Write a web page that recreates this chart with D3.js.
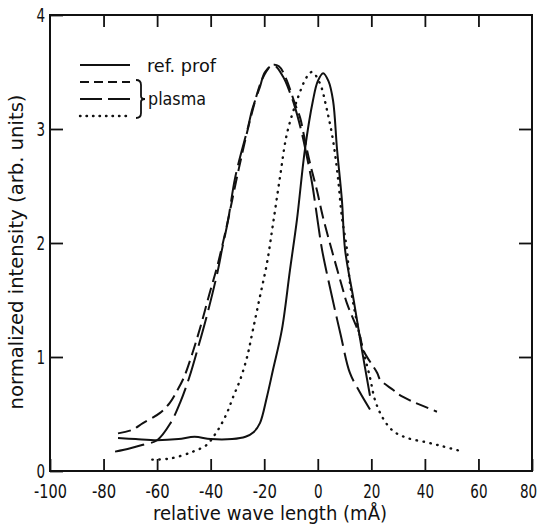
<!DOCTYPE html>
<html>
<head>
<meta charset="utf-8">
<script src="https://cdn.jsdelivr.net/npm/d3@7"></script>
<style>
  body { margin: 0; background: #fff; }
  text { font-family: 'DejaVu Sans Condensed', 'Liberation Sans', sans-serif; fill: #111; }
</style>
</head>
<body>
<svg id="mainsvg" width="541" height="527"></svg>
<script>
// values
const xTicks = [-100, -80, -60, -40, -20, 0, 20, 40, 60, 80];
const yTicks = [0, 1, 2, 3, 4];

// ref. prof (solid)
const refProf = [[-74.6,0.29],[-68,0.28],[-60,0.27],[-52,0.28],[-46,0.30],[-40,0.28],[-32,0.28],
  [-27,0.30],[-24,0.34],[-21.6,0.42],[-19,0.65],[-16.7,0.89],[-13.4,1.24],[-10.4,1.76],[-7.8,2.2],
  [-4.8,2.82],[-1.8,3.25],[0,3.42],[2,3.49],[4,3.42],[5.7,3.25],[7.2,2.82],[9,2.38],[10.2,1.94],
  [13.4,1.5],[16.5,1.06],[19.5,0.66]];

// plasma, short dashes
const plasmaShort = [[-74.6,0.33],[-69.4,0.36],[-65.3,0.42],[-58.9,0.51],[-55.2,0.60],[-52.4,0.71],
  [-50,0.82],[-47,1.02],[-44,1.25],[-40.5,1.55],[-37.5,1.8],[-34,2.15],[-29.5,2.65],[-24.5,3.15],
  [-20.5,3.45],[-17,3.56],[-14.5,3.55],[-12,3.45],[-8.5,3.22],[-6.6,3.1],[-4.8,2.9],[-2.9,2.7],
  [-0.3,2.46],[1.9,2.23],[5.2,1.94],[9.4,1.59],[10.9,1.47],[15.8,1.18],[17,1.06],[22.2,0.86],
  [23.3,0.80],[28.2,0.71],[29.7,0.68],[34.4,0.62],[36.3,0.60],[44.5,0.52]];

// plasma, long dashes
const plasmaLong = [[-75.7,0.17],[-70,0.20],[-65.3,0.23],[-60,0.27],[-55,0.42],[-51.4,0.60],
  [-48,0.82],[-44.5,1.1],[-41,1.4],[-37.3,1.76],[-35.8,1.94],[-33.5,2.2],[-30.8,2.58],
  [-26,3.02],[-24.5,3.17],[-21.6,3.37],[-19.7,3.50],[-16.5,3.56],[-13,3.46],[-10.4,3.32],
  [-8.5,3.19],[-5.9,2.96],[-4,2.75],[-2.1,2.52],[0.1,2.17],[1.6,1.94],[5.3,1.53],[8.5,1.2],
  [12,0.86],[15.5,0.70],[19.5,0.54]];

// plasma, dotted
const plasmaDot = [[-61.8,0.10],[-55,0.11],[-46.6,0.17],[-41.4,0.23],[-39,0.30],[-36.5,0.39],
  [-33.9,0.51],[-31.6,0.65],[-29,0.80],[-26.4,1.0],[-24.2,1.24],[-21.6,1.53],[-19,1.82],
  [-16.7,2.17],[-14.1,2.58],[-11.5,2.96],[-7.8,3.25],[-4,3.46],[-2.1,3.5],[0.8,3.4],[3.4,3.17],
  [5.7,2.9],[7.5,2.58],[9,2.23],[10.9,1.94],[12,1.65],[15,1.26],[16.9,1.06],[19.5,0.82],
  [21.4,0.62],[24.4,0.46],[28.2,0.35],[33.4,0.29],[40.9,0.25],[46.9,0.215],[52.6,0.18]];

const series = [
  { name: 'ref. prof', data: refProf, dash: null, legendDash: null },
  { name: 'plasma', data: plasmaShort, dash: '13,6', legendDash: '9,5' },
  { name: 'plasma', data: plasmaLong, dash: '30,7', legendDash: '22,6' },
  { name: 'plasma', data: plasmaDot, dash: '0.5,6.5', legendDash: '0.5,6', cap: 'round' }
];

const svg = d3.select('#mainsvg');
const x = d3.scaleLinear().domain([-100, 80]).range([50, 532]);
const y = d3.scaleLinear().domain([0, 4]).range([471, 15]);
const g = svg.append('g');

// axes with inward ticks
const fmt = d => d < 0 ? '-' + Math.abs(d) : String(d);
const labelLen = d => fmt(d).replace('-', '').length * 8.6 + (d < 0 ? 7 : 0);
const bottom = g.append('g').attr('transform', `translate(0,${y(0)})`)
  .call(d3.axisBottom(x).tickValues(xTicks).tickSize(-12).tickPadding(14).tickFormat(fmt));
const left = g.append('g').attr('transform', `translate(${x(-100)},0)`)
  .call(d3.axisLeft(y).tickValues(yTicks).tickSize(-13).tickPadding(5).tickFormat(fmt));
g.append('g').attr('transform', `translate(0,${y(4)})`)
  .call(d3.axisTop(x).tickValues(xTicks.slice(1, -1)).tickSize(-12).tickFormat(''));
g.append('g').attr('transform', `translate(${x(80)},0)`)
  .call(d3.axisRight(y).tickValues(yTicks.slice(1, -1)).tickSize(-13).tickFormat(''));

g.selectAll('.domain').remove();
g.selectAll('.tick line').attr('stroke', '#111').attr('stroke-width', 1.8);
bottom.selectAll('text').attr('font-size', 19)
  .attr('textLength', labelLen).attr('lengthAdjust', 'spacingAndGlyphs')
  .attr('dx', d => d === 80 ? -4 : 0);
left.selectAll('text').attr('font-size', 19).attr('dy', '0.36em')
  .attr('textLength', labelLen).attr('lengthAdjust', 'spacingAndGlyphs');

g.append('rect')
  .attr('x', x(-100)).attr('y', y(4))
  .attr('width', x(80) - x(-100)).attr('height', y(0) - y(4))
  .attr('fill', 'none').attr('stroke', '#111').attr('stroke-width', 2);

// curves
const line = d3.line().x(d => x(d[0])).y(d => y(d[1])).curve(d3.curveCatmullRom.alpha(0.5));
g.selectAll('path.curve').data(series).join('path')
  .attr('class', 'curve')
  .attr('d', d => line(d.data))
  .attr('fill', 'none')
  .attr('stroke', '#111')
  .attr('stroke-width', d => d.cap ? 2.4 : 2)
  .attr('stroke-linecap', d => d.cap || 'butt')
  .attr('stroke-dasharray', d => d.dash);

// legend
const lg = g.append('g').attr('transform', 'translate(80,65)');
const rowH = 17;
lg.selectAll('line').data(series).join('line')
  .attr('x1', 0).attr('x2', 50)
  .attr('y1', (d, i) => i * rowH).attr('y2', (d, i) => i * rowH)
  .attr('stroke', '#111')
  .attr('stroke-width', d => d.cap ? 2.4 : 2)
  .attr('stroke-linecap', d => d.cap || 'butt')
  .attr('stroke-dasharray', d => d.legendDash);
lg.append('text').attr('x', 67).attr('y', 7).attr('font-size', 18)
  .attr('textLength', 69).attr('lengthAdjust', 'spacingAndGlyphs').text(series[0].name);
// brace grouping the three plasma lines
const bx = 56, b0 = rowH - 2, b1 = 3 * rowH + 2, bm = (b0 + b1) / 2;
lg.append('path')
  .attr('d', `M${bx},${b0} q5,0 5,5 v${bm - b0 - 8} q0,3 4,3 q-4,0 -4,3 v${b1 - bm - 8} q0,5 -5,5`)
  .attr('fill', 'none').attr('stroke', '#111').attr('stroke-width', 1.8);
lg.append('text').attr('x', 68).attr('y', bm + 6).attr('font-size', 18)
  .attr('textLength', 58).attr('lengthAdjust', 'spacingAndGlyphs').text(series[1].name);

// axis titles
svg.append('text')
  .attr('x', 270).attr('y', 520).attr('text-anchor', 'middle').attr('font-size', 19)
  .attr('textLength', 234).attr('lengthAdjust', 'spacingAndGlyphs')
  .text('relative wave length (mÅ)');
svg.append('text')
  .attr('transform', 'translate(23,252) rotate(-90)')
  .attr('text-anchor', 'middle').attr('font-size', 19)
  .attr('textLength', 315).attr('lengthAdjust', 'spacingAndGlyphs')
  .text('normalized intensity (arb. units)');
</script>
</body>
</html>
